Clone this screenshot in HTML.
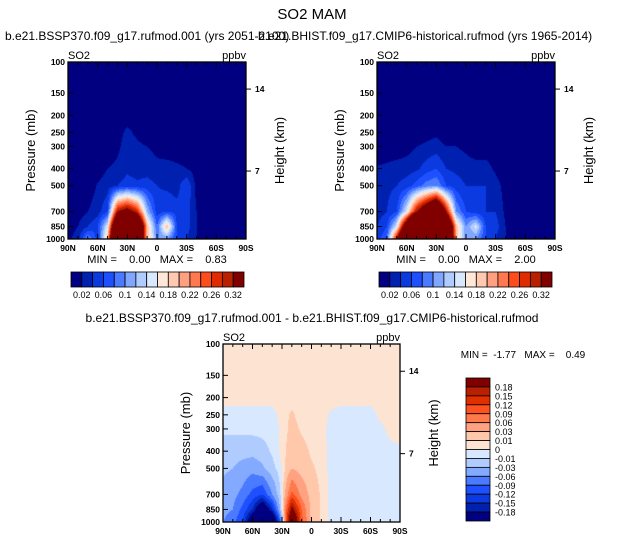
<!DOCTYPE html>
<html><head><meta charset="utf-8">
<style>
html,body{margin:0;padding:0;background:#fff;width:625px;height:543px;overflow:hidden;position:relative;font-family:"Liberation Sans",sans-serif}
canvas{position:absolute}
svg{position:absolute;left:0;top:0}
</style></head>
<body>
<canvas id="c1" style="left:68px;top:62px" width="178" height="177"></canvas>
<canvas id="c2" style="left:377px;top:62px" width="178" height="177"></canvas>
<canvas id="c3" style="left:223px;top:344px" width="177" height="178"></canvas>
<svg id="ov" width="625" height="543"></svg>
<script>
// ---- data ----
const lats = [90,80,70,60,50,40,30,20,10,0,-10,-20,-30,-40,-50,-60,-70,-80,-90];
const pLevels = [100,150,200,250,300,400,500,700,850,1000];
const pTicks = [100,150,200,250,300,400,500,700,850,1000];
const latTickLabels = ["90N","60N","30N","0","30S","60S","90S"];
const absBounds = [0.02,0.04,0.06,0.08,0.1,0.12,0.14,0.16,0.18,0.2,0.22,0.24,0.26,0.28,0.3];
const absLabels = ["0.02","0.06","0.1","0.14","0.18","0.22","0.26","0.32"];
const diffBounds = [-0.18,-0.15,-0.12,-0.09,-0.06,-0.03,-0.01,0,0.01,0.03,0.06,0.09,0.12,0.15,0.18];
const diffLabels = ["0.18","0.15","0.12","0.09","0.06","0.03","0.01","0","-0.01","-0.03","-0.06","-0.09","-0.12","-0.15","-0.18"];
const absColors = ["#000080","#0020b0","#0a3ae0","#1e50ff","#4a7aff","#80a6ff","#b0ccff","#d8e8ff","#ffe8d8","#ffc8b0","#ffa080","#ff7850","#ff4c1c","#e02c00","#b82000","#800000"];
const diffColors = ["#000080","#0020b0","#0a3ae0","#1e50ff","#4a7aff","#84aaff","#b0ccff","#d8e8ff","#fde4d2","#ffc8aa","#ffa282","#ff7a4a","#ff5020","#e03000","#b82000","#800000"];
const E=0.005;
const ssp = [
[E,E,E,E,E,E,E,E,E,E,E,E,E,E,E,E,E,E,E],
[E,E,E,E,E,E,E,E,E,E,E,E,E,E,E,E,E,E,E],
[E,E,E,E,E,E,0.01,E,E,E,E,E,E,E,E,E,E,E,E],
[E,E,E,E,E,0.012,0.025,0.015,E,E,E,E,E,E,E,E,E,E,E],
[E,E,E,E,E,0.015,0.03,0.025,0.02,0.015,E,E,E,E,E,E,E,E,E],
[E,E,E,0.01,0.02,0.025,0.035,0.03,0.03,0.025,0.03,0.025,0.02,0.01,E,E,E,E,E],
[E,E,0.008,0.022,0.03,0.04,0.05,0.045,0.05,0.04,0.035,0.03,0.06,0.012,E,E,E,E,E],
[E,0.01,0.02,0.03,0.06,0.3,0.34,0.28,0.12,0.05,0.06,0.05,0.05,0.02,E,E,E,E,E],
[0.01,0.02,0.04,0.06,0.15,0.5,0.6,0.5,0.2,0.08,0.2,0.06,0.05,0.02,0.01,E,E,E,E],
[0.015,0.03,0.1,0.05,0.2,0.6,0.7,0.5,0.2,0.1,0.1,0.06,0.04,0.02,0.008,E,E,E,E]];
const hist = [
[E,E,E,E,E,E,E,E,E,E,E,E,E,E,E,E,E,E,E],
[E,E,E,E,E,E,E,E,E,E,E,E,E,E,E,E,E,E,E],
[E,E,E,E,E,E,E,E,E,E,E,E,E,E,E,E,E,E,E],
[E,E,E,E,E,0.01,0.015,E,E,E,E,E,E,E,E,E,E,E,E],
[E,E,E,0.012,0.02,0.025,0.03,0.02,0.02,0.015,E,E,E,E,E,E,E,E,E],
[0.022,0.025,0.03,0.03,0.035,0.05,0.06,0.04,0.035,0.03,0.03,0.03,0.015,E,E,E,E,E,E],
[0.03,0.035,0.04,0.05,0.07,0.09,0.1,0.06,0.05,0.04,0.04,0.04,0.03,0.01,E,E,E,E,E],
[0.03,0.04,0.06,0.15,0.3,0.4,0.5,0.3,0.1,0.06,0.05,0.04,0.04,0.015,E,E,E,E,E],
[0.04,0.06,0.15,0.4,0.8,1.2,1.0,0.5,0.2,0.1,0.15,0.06,0.05,0.02,E,E,E,E,E],
[0.05,0.08,0.3,0.6,1.2,2.0,1.5,0.6,0.2,0.1,0.1,0.06,0.04,0.02,E,E,E,E,E]];
const diff = [
[E,E,E,E,E,E,E,E,E,E,E,E,E,E,E,E,E,E,E],
[E,E,E,E,E,E,E,E,E,E,E,E,E,E,E,E,E,E,E],
[E,E,E,E,E,E,E,E,E,E,E,E,E,E,E,E,E,E,E],
[-0.005,-0.005,-0.005,-0.005,-0.005,-0.005,0.005,0.012,E,E,E,-0.002,-0.005,-0.005,-0.005,-0.005,0.003,E,E],
[-0.006,-0.006,-0.006,-0.006,-0.006,-0.006,0.002,0.015,0.008,E,0.004,-0.004,-0.005,-0.005,-0.005,-0.005,-0.003,0.003,E],
[-0.02,-0.02,-0.02,-0.02,-0.015,-0.008,0.004,0.02,0.015,0.008,0.005,-0.004,-0.005,-0.005,-0.005,-0.005,-0.005,-0.003,-0.002],
[-0.025,-0.03,-0.04,-0.05,-0.035,-0.015,0.0,0.03,0.02,0.012,0.006,-0.004,-0.005,-0.005,-0.005,-0.005,-0.005,-0.005,-0.005],
[-0.04,-0.05,-0.07,-0.1,-0.12,-0.06,0.0,0.1,0.05,0.02,0.008,-0.003,-0.005,-0.005,-0.005,-0.005,-0.005,-0.005,-0.005],
[-0.05,-0.06,-0.1,-0.15,-0.25,-0.15,0.0,0.2,0.09,0.02,0.008,-0.003,-0.005,-0.005,-0.005,-0.005,-0.005,-0.005,-0.005],
[-0.06,-0.08,-0.12,-0.25,-0.4,-0.3,-0.05,0.3,0.1,0.025,0.008,-0.003,-0.005,-0.005,-0.005,-0.005,-0.005,-0.005,-0.005]];

// ---- helpers ----
const logP = p => Math.log10(p/100);
function yScale(top,h){return p=>top+logP(p)*h;}
function xScale(left,w){return lat=>left+(90-lat)/180*w;}
function sample(grid,lat,p){
  let li=(90-lat)/10; let i0=Math.min(Math.floor(li),17); let fx=li-i0;
  let lp=logP(p); let j0=0;
  for(let j=0;j<pLevels.length-1;j++){ if(lp>=logP(pLevels[j])) j0=j; }
  let a=logP(pLevels[j0]), b=logP(pLevels[j0+1]); let fy=Math.max(0,Math.min(1,(lp-a)/(b-a)));
  const g=(j,i)=>grid[j][i];
  return (1-fy)*((1-fx)*g(j0,i0)+fx*g(j0,i0+1))+fy*((1-fx)*g(j0+1,i0)+fx*g(j0+1,i0+1));
}
function binOf(v,bounds){let k=0;while(k<bounds.length&&v>=bounds[k])k++;return k;}
function hex(c){return [parseInt(c.slice(1,3),16),parseInt(c.slice(3,5),16),parseInt(c.slice(5,7),16)];}
function drawField(id,grid,bounds,colors){
  const cv=document.getElementById(id),ctx=cv.getContext('2d'),W=cv.width,H=cv.height;
  const img=ctx.createImageData(W,H); const rgb=colors.map(hex);
  for(let y=0;y<H;y++){const p=100*Math.pow(10,(y+0.5)/H);
    for(let x=0;x<W;x++){const lat=90-(x+0.5)/W*180;
      const c=rgb[binOf(sample(grid,lat,p),bounds)];const o=(y*W+x)*4;
      img.data[o]=c[0];img.data[o+1]=c[1];img.data[o+2]=c[2];img.data[o+3]=255;}}
  ctx.putImageData(img,0,0);
}
drawField('c1',ssp,absBounds,absColors);
drawField('c2',hist,absBounds,absColors);
drawField('c3',diff,diffBounds,diffColors);

const NS='http://www.w3.org/2000/svg', ov=document.getElementById('ov');
function el(tag,attrs,txt){const e=document.createElementNS(NS,tag);for(const k in attrs)e.setAttribute(k,attrs[k]);if(txt!==undefined)e.textContent=txt;ov.appendChild(e);return e;}
function txt(x,y,s,size,anchor,name,extra){const e=el('text',Object.assign({x:x,y:y,'font-size':size,'text-anchor':anchor||'start','font-family':'Liberation Sans, sans-serif',fill:'#000',style:'white-space:pre'},extra||{}),s);


return e;}

function axes(left,top,w,h,pfx){
  const X=xScale(left,w),Y=yScale(top,h);
  const r=el('rect',{x:left,y:top,width:w,height:h,fill:'none',stroke:'#000','stroke-width':1.3});
  
  
  for(let lat=90;lat>=-90;lat-=10){const x=X(lat),len=(lat%30===0)?5:3;
    el('line',{x1:x,y1:top+h,x2:x,y2:top+h-len,stroke:'#000'});el('line',{x1:x,y1:top,x2:x,y2:top+len,stroke:'#000'});}
  latTickLabels.forEach((s,i)=>{txt(X(90-30*i),top+h+12,s,8.5,'middle',pfx+'-x-tick-label',{'font-weight':'bold'});});
  pTicks.forEach(p=>{const y=Y(p);el('line',{x1:left,y1:y,x2:left+5,y2:y,stroke:'#000'});
    txt(left-3,y+3,String(p),8.5,'end',pfx+'-y-tick-label',{'font-weight':'bold'});});
  [[0.153,'14'],[0.616,'7']].forEach(t=>{const y=top+t[0]*h;el('line',{x1:left+w,y1:y,x2:left+w+5,y2:y,stroke:'#000'});txt(left+w+9,y+3,t[1],8.5,'start',pfx+'-height-tick-label',{'font-weight':'bold'});});
  txt(left,top-3,'SO2',11,'start',pfx+'-variable-label');
  txt(left+w,top-3,'ppbv',11,'end',pfx+'-units-label');
  txt(left-33,top+h/2,'Pressure (mb)',13,'middle',pfx+'-y-axis-title',{transform:`rotate(-90 ${left-33} ${top+h/2})`});
  txt(left+w+38,top+h/2,'Height (km)',13,'middle',pfx+'-right-axis-title',{transform:`rotate(-90 ${left+w+38} ${top+h/2})`});
}
axes(68,62,178,177,'ssp370');
axes(377,62,178,177,'historical');
axes(223,344,177,178,'difference');

function hbar(left,top,w,h,colors,labels,pfx){
  const n=colors.length,bw=w/n;
  colors.forEach((c,i)=>{const r=el('rect',{x:left+i*bw,y:top,width:bw,height:h,fill:c,stroke:'#000','stroke-width':0.8});
    
    });
  labels.forEach((s,k)=>{txt(left+(1+2*k)*bw,top+h+11,s,9,'middle',pfx+'-colorbar-label');});
}
hbar(71,272,173,15,absColors,absLabels,'ssp370');
hbar(379,272,173,15,absColors,absLabels,'historical');
(function(){const left=466,top=378,w=24,h=143,n=diffColors.length,bh=h/n;
  for(let i=0;i<n;i++){const r=el('rect',{x:left,y:top+i*bh,width:w,height:bh,fill:diffColors[n-1-i],stroke:'#000','stroke-width':0.8});
    
    }
  diffLabels.forEach((s,k)=>{txt(left+w+5,top+(k+1)*bh+3.5,s,9,'start','difference-colorbar-label');});
})();

txt(312,19,'SO2 MAM',15,'middle','main-title');
txt(5,40,'b.e21.BSSP370.f09_g17.rufmod.001 (yrs 2051-2100)',12,'start','ssp370-subtitle');
txt(258,40,'b.e21.BHIST.f09_g17.CMIP6-historical.rufmod (yrs 1965-2014)',12,'start','historical-subtitle');
txt(312,322,'b.e21.BSSP370.f09_g17.rufmod.001 - b.e21.BHIST.f09_g17.CMIP6-historical.rufmod',12,'middle','difference-subtitle');
txt(157,263,'MIN =    0.00   MAX =    0.83',11,'middle','ssp370-min-max');
txt(466,263,'MIN =    0.00   MAX =    2.00',11,'middle','historical-min-max');
txt(523,358,'MIN =  -1.77   MAX =    0.49',10,'middle','difference-min-max');
</script>
</body></html>
